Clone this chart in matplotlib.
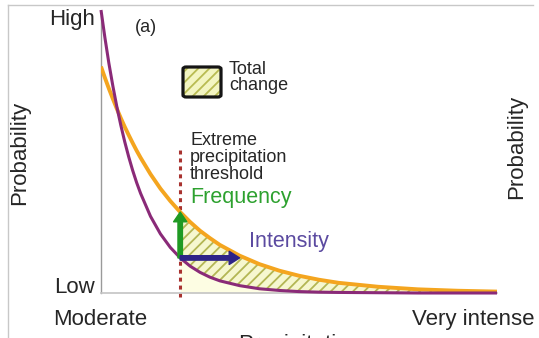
import matplotlib
matplotlib.use("Agg")
import matplotlib.pyplot as plt
from matplotlib.patches import FancyBboxPatch, Rectangle
from matplotlib.lines import Line2D

plt.rcParams['font.family'] = ['Liberation Sans', 'DejaVu Sans']
plt.rcParams['hatch.linewidth'] = 1.3

# precipitation (0 = moderate, 100 = very intense) and probability (0 = low, 100 = high)
precip = [0, 1, 2, 3, 4, 5, 6, 7, 8, 9, 10, 12.5, 15, 17.5, 20, 22.5, 25, 27.5, 30,
          35, 40, 45, 50, 55, 60, 70, 80, 90, 100]
prob_before = [100, 90.1, 81.1, 73.1, 65.8, 59.3, 53.4, 48.1, 43.3, 39.0, 35.2, 27.1,
               20.9, 16.1, 12.4, 9.5, 7.3, 5.6, 4.3, 2.6, 1.5, 0.9, 0.5, 0.3, 0.2,
               0.1, 0.0, 0.0, 0.0]
prob_after = [80, 76.0, 72.2, 68.6, 65.1, 61.8, 58.7, 55.8, 53.0, 50.3, 47.8, 42.0,
              36.9, 32.5, 28.6, 25.1, 22.0, 19.4, 17.0, 13.2, 10.2, 7.9, 6.1, 4.7,
              3.6, 2.2, 1.3, 0.8, 0.5]
threshold = 20
threshold_top = 50.5
intensity_tip = 35

W, H = 539, 338


def px(x, y):
    return x / W, 1 - y / H


fig = plt.figure(figsize=(W / 100, H / 100), dpi=100)
ax = fig.add_axes([101 / W, 45 / H, 396 / W, 283 / H])
ax.set_xlim(0, 100)
ax.set_ylim(0, 100)
ax.set_xticks([])
ax.set_yticks([])
for side in ['top', 'right']:
    ax.spines[side].set_visible(False)
ax.spines['left'].set_color('#9a9a9a')
ax.spines['left'].set_linewidth(1.0)
ax.spines['left'].set_bounds(0, 98)
ax.spines['bottom'].set_color('#c4c4c4')
ax.spines['bottom'].set_linewidth(1.2)

tail = [x >= threshold for x in precip]
ax.fill_between(precip, 0, prob_before, where=tail, color='#fdfde3', lw=0, zorder=1)
ax.fill_between(precip, prob_before, prob_after, where=tail, facecolor='#f6f7cf',
                edgecolor='#b3b654', hatch='///', lw=0, zorder=1)

ax.plot([threshold, threshold], [-1.5, threshold_top], color='#a8322f', lw=2.2,
        ls=(0, (1.3, 1.3)), clip_on=False, zorder=2)

ax.plot(precip, prob_after, color='#f4a51f', lw=2.8, solid_capstyle='butt', zorder=3)
ax.plot(precip, prob_before, color='#8a2a78', lw=2.2, solid_capstyle='butt',
        clip_on=False, zorder=3)

i = precip.index(threshold)
ax.annotate('', xy=(threshold, prob_after[i]), xytext=(threshold, prob_before[i]),
            arrowprops=dict(width=3.2, headwidth=9.5, headlength=7, color='#1f9a23',
                            shrink=0), zorder=5)
ax.annotate('', xy=(intensity_tip, prob_before[i]), xytext=(threshold, prob_before[i]),
            arrowprops=dict(width=3.2, headwidth=9.5, headlength=7.5, color='#2e2388',
                            shrink=0), zorder=5)

# legend swatch
x0, y0 = px(183, 97)
w, h = 38 / W, 30 / H
fig.patches.append(Rectangle((x0, y0), w, h, transform=fig.transFigure,
                             facecolor='#f3f5c2', edgecolor='#b8bb52', hatch='///',
                             lw=0))
fig.patches.append(FancyBboxPatch((x0, y0), w, h, boxstyle='round,pad=0,rounding_size=0.006',
                                  transform=fig.transFigure, facecolor='none',
                                  edgecolor='#151515', lw=2.3))

# frame lines
fig.lines.append(Line2D([8 / W, 533 / W], [1 - 5 / H] * 2, transform=fig.transFigure,
                        color='#c8c8c8', lw=1))
fig.lines.append(Line2D([8 / W] * 2, [1 - 5 / H, 0], transform=fig.transFigure,
                        color='#c8c8c8', lw=1))

tc = '#262626'
fig.text(*px(95, 25), 'High', ha='right', va='baseline', fontsize=16, color=tc)
fig.text(*px(95, 293), 'Low', ha='right', va='baseline', fontsize=16, color=tc)
fig.text(*px(53, 325), 'Moderate', ha='left', va='baseline', fontsize=16, color=tc)
fig.text(*px(535, 325), 'Very intense', ha='right', va='baseline', fontsize=16, color=tc)
fig.text(*px(300, 334), 'Precipitation', ha='center', va='top', fontsize=16, color=tc)
fig.text(*px(20, 153), 'Probability', ha='center', va='center', rotation=90,
         fontsize=16, color=tc)
fig.text(*px(517, 147), 'Probability', ha='center', va='center', rotation=90,
         fontsize=16, color=tc)
fig.text(*px(146, 28), '(a)', ha='center', va='center', fontsize=13, color=tc)
fig.text(*px(229, 61), 'Total\nchange', ha='left', va='top', fontsize=13,
         linespacing=0.95, color=tc)
fig.text(*px(190, 132), 'Extreme\nprecipitation\nthreshold', ha='left', va='top',
         fontsize=13, linespacing=1.0, color=tc)
fig.text(*px(190, 203), 'Frequency', ha='left', va='baseline', fontsize=15.5,
         color='#2da12f')
fig.text(*px(249, 247), 'Intensity', ha='left', va='baseline', fontsize=15.5,
         color='#5b4aa0')

fig.savefig('out.png', dpi=100)
